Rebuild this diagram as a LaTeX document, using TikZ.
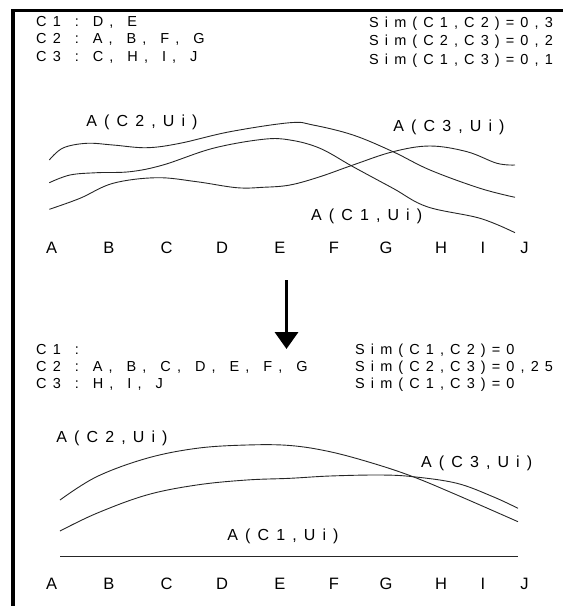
\documentclass[tikz,border=0pt]{standalone}
\usepackage{fontspec}
\setmainfont{Liberation Sans}
\usetikzlibrary{arrows.meta}
\ExplSyntaxOn
\dim_new:N \l__rs_gap_dim
\dim_new:N \l__rs_sp_dim
\seq_new:N \l__rs_words_seq
\bool_new:N \l__rs_first_bool
\bool_new:N \l__rs_wfirst_bool
\cs_new_protected:Npn \__rs_word:n #1
  {
    \bool_set_true:N \l__rs_wfirst_bool
    \tl_map_inline:nn {#1}
      {
        \bool_if:NF \l__rs_wfirst_bool { \kern \l__rs_gap_dim }
        \bool_set_false:N \l__rs_wfirst_bool
        ##1
      }
  }
\NewDocumentCommand \spread { m m m }
  {
    \dim_set:Nn \l__rs_gap_dim {#1}
    \dim_set:Nn \l__rs_sp_dim {#2}
    \seq_set_split:Nnn \l__rs_words_seq { ~ } {#3}
    \bool_set_true:N \l__rs_first_bool
    \seq_map_inline:Nn \l__rs_words_seq
      {
        \bool_if:NF \l__rs_first_bool { \hspace*{\l__rs_sp_dim} }
        \bool_set_false:N \l__rs_first_bool
        \__rs_word:n {##1}
      }
  }
\ExplSyntaxOff
\newcommand\ttx[1]{\spread{6.1pt}{14pt}{#1}}
\newcommand\tlb[1]{\spread{7.1pt}{14pt}{#1}}
\begin{document}
\begin{tikzpicture}[x=1pt,y=-1pt,
  txt/.style={anchor=base west,inner sep=0pt,font=\fontsize{14.5}{16}\selectfont},
  lbl/.style={inner sep=0pt,font=\fontsize{16}{18}\selectfont},
  axl/.style={inner sep=0pt,font=\fontsize{16.5}{18}\selectfont},
  curve/.style={line width=0.9pt,black!85},
  frametop/.style={line width=3pt,black},
  frameleft/.style={line width=4pt,black},
  bigarrow/.style={line width=3.6pt,black,-{Triangle[length=17pt,width=23pt]}}]
\useasboundingbox (0,0) rectangle (563,606);
% frame
\draw[frametop] (11,10.5) -- (563,10.5);
\draw[frameleft] (13,9) -- (13,606);

% top text
\node[txt] (l1) at (36,26) {\ttx{C1 : D, E}};
\node[txt] (l2) at (36,43.5) {\ttx{C2 : A, B, F, G}};
\node[txt] (l3) at (36,61) {\ttx{C3 : C, H, I, J}};
\node[txt] (s1) at (369,27) {\ttx{Sim(C1,C2)=0,3}};
\node[txt] (s2) at (369,45.5) {\ttx{Sim(C2,C3)=0,2}};
\node[txt] (s3) at (369,64) {\ttx{Sim(C1,C3)=0,1}};

% top chart curves
\draw[curve] plot[smooth,tension=0.6] coordinates {(49.3,160) (63,148) (86.7,143.3) (113,145) (146.7,147.7) (180,143.3) (230,131.7) (290,122.7) (313,125) (353,135) (393,151.7) (430,170) (480,188.3) (515,197.3)};
\draw[curve] plot[smooth,tension=0.6] coordinates {(49.3,182.7) (70,175) (96.7,172.7) (130,171.7) (163,165) (213,148.3) (263,139.3) (290,140) (320,148.3) (353,166.7) (393,188.3) (427,206.7) (480,218.3) (515,232.7)};
\draw[curve] plot[smooth,tension=0.6] coordinates {(49.3,209.3) (80,198.3) (113,183.3) (156.7,177.7) (196.7,181.7) (236.7,187.7) (263,187.3) (290,185) (320,176.7) (353,165) (393,151.7) (430,146) (467,151.7) (497,163.3) (515,165)};
\node[lbl] (tc2) at (142,122.7) {\tlb{A(C2,Ui)}};
\node[lbl] (tc3) at (449,127.3) {\tlb{A(C3,Ui)}};
\node[lbl] (tc1) at (366.7,216.7) {\tlb{A(C1,Ui)}};

% top axis letters
\foreach \l/\x in {A/51.7,B/109,C/166.7,D/222,E/280,F/334,G/386,H/441,I/483,J/524.5}
  \node[axl] (t\l) at (\x,248) {\l};

% arrow
\coordinate (arrS) at (286.5,280);
\coordinate (arrE) at (286.5,349);
\draw[bigarrow] (arrS) -- (arrE);

% bottom text
\node[txt] (b1) at (36,354) {\ttx{C1 :}};
\node[txt] (b2) at (36,371) {\ttx{C2 : A, B, C, D, E, F, G}};
\node[txt] (b3) at (36,388) {\ttx{C3 : H, I, J}};
\node[txt] (bs1) at (355,354) {\ttx{Sim(C1,C2)=0}};
\node[txt] (bs2) at (355,371) {\ttx{Sim(C2,C3)=0,25}};
\node[txt] (bs3) at (355,388) {\ttx{Sim(C1,C3)=0}};

% bottom chart curves
\draw[curve] plot[smooth,tension=0.6] coordinates {(60,500) (96.7,476.7) (146.7,458.3) (196.7,448.3) (246.7,445) (290,445.5) (330,451.7) (373,463.3) (413,476.7) (457,495) (518,521.7)};
\draw[curve] plot[smooth,tension=0.6] coordinates {(60,531) (96.7,513.3) (146.7,495) (196.7,485) (246.7,480) (290,478.3) (330,476) (380,475) (413,476.7) (457,483.3) (493,496.7) (518,508.3)};
\draw[curve] (60,556.7) -- (518,556.7);
\node[lbl] (bc2) at (112,438.3) {\tlb{A(C2,Ui)}};
\node[lbl] (bc3) at (476.7,463.3) {\tlb{A(C3,Ui)}};
\node[lbl] (bc1) at (283,536.7) {\tlb{A(C1,Ui)}};

% bottom axis letters
\foreach \l/\x in {A/51.7,B/109,C/166.7,D/222,E/280,F/334,G/386,H/441,I/483,J/524.5}
  \node[axl] (b\l) at (\x,584) {\l};
\end{tikzpicture}
\end{document}
